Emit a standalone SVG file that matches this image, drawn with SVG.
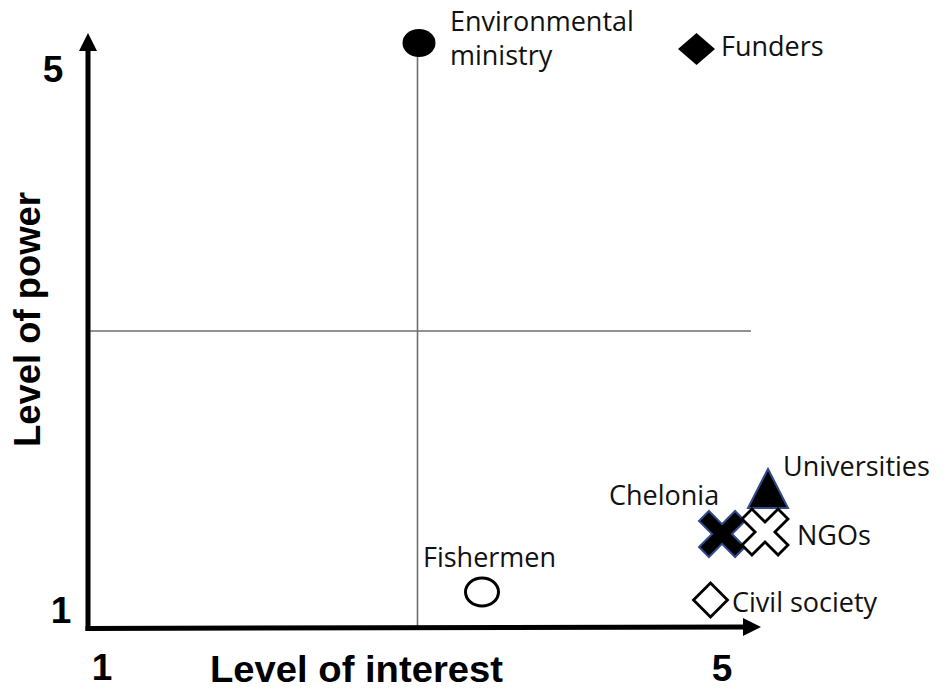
<svg xmlns="http://www.w3.org/2000/svg" width="947" height="690" viewBox="0 0 947 690">
<style>
.lbl{font-family:"Open Sans","Noto Sans","Liberation Sans",sans-serif;font-size:27px;fill:#111}
.ax{font-family:"Liberation Sans",Arial,sans-serif;font-weight:bold;font-size:37px;fill:#000}
.axis{stroke:#000;stroke-width:5;fill:none}
.grid{stroke:#6e6e6e;stroke-width:1.6;fill:none}
.blk{fill:#000}
.outline{fill:#fff;stroke:#000;stroke-width:2.8}
.navy{fill:#000;stroke:#2f4b8c;stroke-width:2}
</style>
<defs>
<polygon id="xshape" transform="rotate(45)" points="-7,-25.5 7,-25.5 7,-7 25.5,-7 25.5,7 7,7 7,25.5 -7,25.5 -7,7 -25.5,7 -25.5,-7 -7,-7"/>
</defs>
<g id="connectors">
<line class="grid" x1="417.5" y1="55" x2="417.5" y2="628"/>
<line class="grid" x1="88" y1="331" x2="751" y2="331"/>
<line class="axis" x1="88" y1="631" x2="88" y2="49"/>
<polygon class="blk" points="88,33 79,51 97,51"/>
<line class="axis" x1="85.5" y1="628.5" x2="745" y2="627"/>
<polygon class="blk" points="761,627 743,618 743,636"/>
</g>
<g id="axis-labels">
<text class="ax" x="53" y="82" text-anchor="middle">5</text>
<text class="ax" x="61" y="623" text-anchor="middle">1</text>
<text class="ax" x="102" y="680" text-anchor="middle">1</text>
<text class="ax" x="722" y="681" text-anchor="middle">5</text>
<text class="ax" x="210" y="682" textLength="293" lengthAdjust="spacingAndGlyphs">Level of interest</text>
<text class="ax" transform="translate(40,447) rotate(-90)" x="0" y="0" textLength="255" lengthAdjust="spacingAndGlyphs">Level of power</text>
</g>
<g id="environmental-ministry">
<ellipse class="blk" cx="419" cy="43" rx="16.5" ry="14"/>
<text class="lbl" x="450" y="31">Environmental</text>
<text class="lbl" x="450" y="65">ministry</text>
</g>
<g id="funders">
<polygon class="blk" points="696.5,33 715,49 696.5,65 678,49"/>
<text class="lbl" x="721" y="56">Funders</text>
</g>
<g id="fishermen">
<ellipse cx="482" cy="592" rx="16.5" ry="14" fill="#fff" stroke="#000" stroke-width="3"/>
<text class="lbl" x="423" y="567">Fishermen</text>
</g>
<g id="universities">
<polygon class="navy" points="768,469 788,508 748,508"/>
<text class="lbl" x="783" y="476">Universities</text>
</g>
<g id="chelonia">
<use href="#xshape" class="navy" transform="translate(722,534)"/>
<text class="lbl" x="609" y="505">Chelonia</text>
</g>
<g id="ngos">
<use href="#xshape" class="outline" transform="translate(765,532)"/>
<text class="lbl" x="797" y="545">NGOs</text>
</g>
<g id="civil-society">
<polygon class="outline" points="710.5,583 727.5,600 710.5,617 693.5,600"/>
<text class="lbl" x="732" y="612">Civil society</text>
</g>
</svg>
